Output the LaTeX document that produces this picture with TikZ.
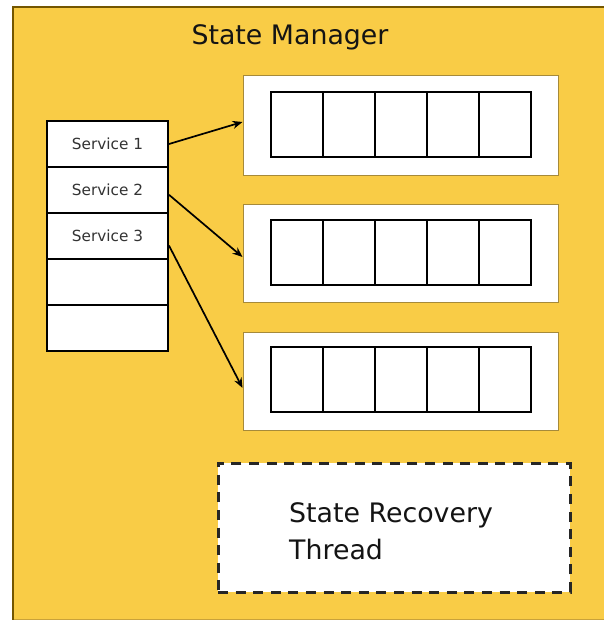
\documentclass[tikz,border=0pt]{standalone}
\usepackage{fontspec}
\setmainfont{DejaVu Sans}
\usetikzlibrary{arrows.meta,calc}
\definecolor{mgrfill}{HTML}{F9CC46}
\definecolor{mgredge}{HTML}{745600}
\definecolor{mgrbottom}{HTML}{C9A23A}
\definecolor{qedge}{HTML}{A68A3A}
\definecolor{svctext}{HTML}{333333}
\tikzset{
  svcrow/.style={draw=black, line width=2pt, minimum width=121pt,
    minimum height=46pt, inner sep=0pt, text=svctext,
    font=\fontsize{15.3}{18}\selectfont},
  queuebox/.style={draw=qedge, line width=1pt, fill=white, minimum width=315pt,
    minimum height=98pt, inner sep=0pt},
  qcell/.style={draw=black, line width=2pt, minimum width=52pt,
    minimum height=65pt, inner sep=0pt},
  link/.style={draw=black, line width=1.7pt, -{Stealth[length=10pt,width=8pt]}},
  bigtext/.style={font=\fontsize{26.8}{30}\selectfont, text=black!92, inner sep=0pt}
}
\begin{document}
\begin{tikzpicture}[x=1pt,y=-1pt]
\useasboundingbox (0,0) rectangle (604,621);
% manager panel
\fill[mgrfill] (12,6) rectangle (604,620);
\draw[mgrbottom, line width=1pt] (13,619.5) -- (604,619.5);
\draw[mgredge, line width=2pt] (604,7) -- (13,7) -- (13,620);
\node[bigtext, anchor=base] (title) at (290,44) {State Manager};

% service table: white backing, then the row frames
\fill[white] (47,121) rectangle (168,351);
\node[svcrow] (s1) at (107.5,144) {Service 1};
\node[svcrow] (s2) at (107.5,190) {Service 2};
\node[svcrow] (s3) at (107.5,236) {Service 3};
\node[svcrow] (s4) at (107.5,282) {};
\node[svcrow] (s5) at (107.5,328) {};

% queues
\node[queuebox, minimum height=100pt] (q1) at (400.5,125) {};
\node[queuebox] (q2) at (400.5,253) {};
\node[queuebox] (q3) at (400.5,381) {};
\foreach \q/\yc in {1/124.5, 2/252.5, 3/379.5}{
  \foreach \i in {0,...,4}{
    \node[qcell] (c\q\i) at ({297+52*\i},\yc) {};
  }
}

% links from services to their queues
\draw[link] ($(s1.north east)!0.5!(s1.south east)$) -- ($(q1.north west)!0.47!(q1.south west)$);
\draw[link] ($(s2.north east)!0.6!(s2.south east)$) -- ($(q2.north west)!0.54!(q2.south west)$);
\draw[link] ($(s3.north east)!0.7!(s3.south east)$) -- ($(q3.north west)!0.57!(q3.south west)$);

% recovery thread
\node[draw=black!85, fill=white, line width=3pt, dash pattern=on 10pt off 7.6pt,
  minimum width=352pt, minimum height=129pt, inner sep=0pt] (rec) at (394,527.5) {};
\node[bigtext, anchor=base west] (rt1) at (289,522) {State Recovery};
\node[bigtext, anchor=base west] (rt2) at (289,559) {Thread};
\end{tikzpicture}
\end{document}
